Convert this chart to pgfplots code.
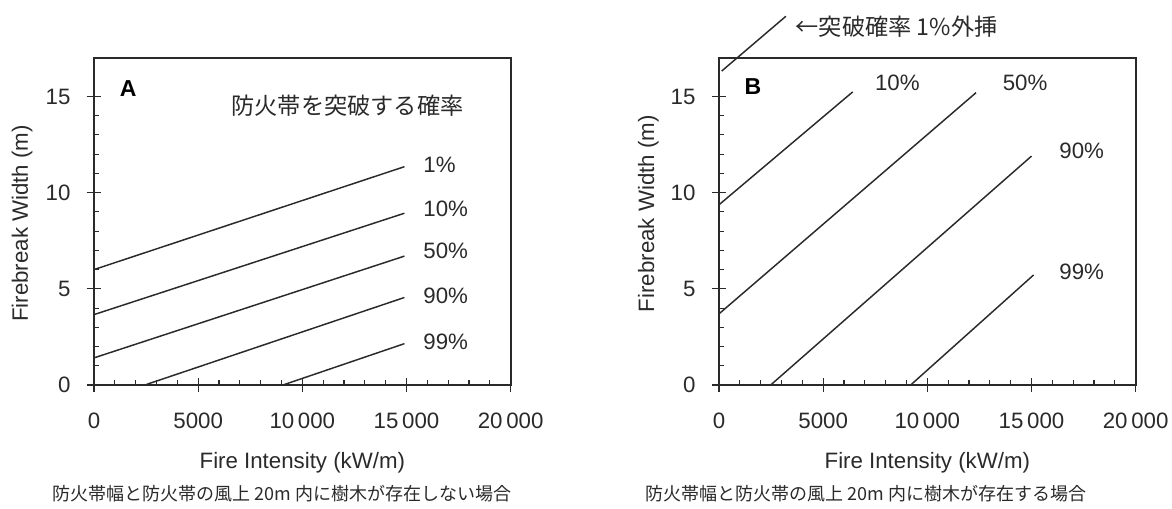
\documentclass[border=0pt]{standalone}
\usepackage{fontspec}
\setmainfont{Liberation Sans}
\newfontfamily\jp{Noto Sans CJK JP}
\usepackage{pgfplots}
\pgfplotsset{compat=1.18}
\definecolor{ink}{HTML}{2A2A2A}
\pgfplotsset{
  panel/.style={
    scale only axis, width=312.5pt, height=245.25pt,
    xmin=0, xmax=20000, ymin=0, ymax=17,
    scaled x ticks=false, scaled y ticks=false,
    xtick={0,5000,10000,15000,20000},
    xticklabels={0,5000,10\,000,15\,000,20\,000},
    ytick={0,5,10,15},
    minor x tick num=4, minor y tick num=4,
    xtick pos=left, ytick pos=left,
    tick align=center,
    major tick length=11pt, minor tick length=4pt,
    minor x tick style={yshift=2pt}, minor y tick style={xshift=2pt},
    tick style={line width=0.8pt, color=ink},
    axis line style={line width=1.4pt, color=ink},
    /pgf/number format/assume math mode=true,
    tick label style={font=\fontsize{16.7}{20}\selectfont, text=ink},
    xticklabel style={anchor=north, inner sep=0pt, yshift=-15pt},
    yticklabel style={anchor=east, inner sep=0pt, xshift=-12pt},
    every axis x label/.style={at={(axis description cs:0.5,0)}, yshift=-58pt, anchor=center,
      font=\fontsize{16.7}{20}\selectfont, text=ink},
    clip=false,
    every axis plot post/.append style={ink, line width=1.1pt, mark=none, solid},
    xlabel={Fire Intensity (kW/m)},
    ylabel={Firebreak Width (m)},
  },
}
\tikzset{
  pct/.style={anchor=west, font=\fontsize{16.7}{20}\selectfont, text=ink, inner sep=0pt},
  tag/.style={font=\bfseries\fontsize{17.3}{20}\selectfont, text=black, inner sep=0pt},
  ylab/.style={font=\fontsize{16.7}{20}\selectfont, text=ink, rotate=90, anchor=center},
  jpcap/.style={font=\jp\fontsize{13.5}{16}\selectfont, text=ink, inner sep=0pt},
}
\begin{document}
\begin{tikzpicture}
\useasboundingbox (0pt,0pt) rectangle (879pt,-381pt);
% Panel A
\begin{axis}[panel, at={(70.5pt,-288.75pt)}, anchor=south west,
  every axis y label/.style={at={(axis description cs:0,0.494)}, xshift=-54pt, ylab}]
\addplot coordinates {(0,6.0) (14900,11.35)};
\addplot coordinates {(0,3.66) (14900,8.93)};
\addplot coordinates {(0,1.41) (14900,6.70)};
\addplot coordinates {(2440,0) (14900,4.55)};
\addplot coordinates {(9070,0) (14900,2.15)};
\node[pct] at (axis cs:15800,11.47) {1\%};
\node[pct] at (axis cs:15800,9.14) {10\%};
\node[pct] at (axis cs:15800,6.98) {50\%};
\node[pct] at (axis cs:15800,4.66) {90\%};
\node[pct] at (axis cs:15800,2.24) {99\%};
\node[tag] at (axis cs:1645,15.4) {A};
\node[font=\jp\fontsize{17.4}{20}\selectfont, text=ink, inner sep=0pt] at (axis cs:12170,14.5) {防火帯を突破する確率};
\end{axis}
% Panel B
\begin{axis}[panel, at={(539.25pt,-288.75pt)}, anchor=south west,
  every axis y label/.style={at={(axis description cs:0,0.524)}, xshift=-53pt, ylab}]
\addplot coordinates {(0,9.37) (6420,15.24)};
\addplot coordinates {(0,3.70) (12340,15.2)};
\addplot coordinates {(2480,0) (15000,11.9)};
\addplot coordinates {(9200,0) (15100,5.72)};
\addplot coordinates {(127,16.32) (3210,19.17)};
\node[pct] at (axis cs:7480,15.7) {10\%};
\node[pct] at (axis cs:13610,15.7) {50\%};
\node[pct] at (axis cs:16330,12.2) {90\%};
\node[pct] at (axis cs:16330,5.87) {99\%};
\node[tag] at (axis cs:1630,15.5) {B};
\node[anchor=west, font=\jp\fontsize{17.4}{20}\selectfont, text=ink, inner sep=0pt] at (axis cs:3670,18.65) {←突破確率 1\%外挿};
\end{axis}
% captions
\node[jpcap] at (211.5pt,-370pt) {防火帯幅と防火帯の風上 20m 内に樹木が存在しない場合};
\node[jpcap] at (649.5pt,-370pt) {防火帯幅と防火帯の風上 20m 内に樹木が存在する場合};
\end{tikzpicture}
\end{document}
